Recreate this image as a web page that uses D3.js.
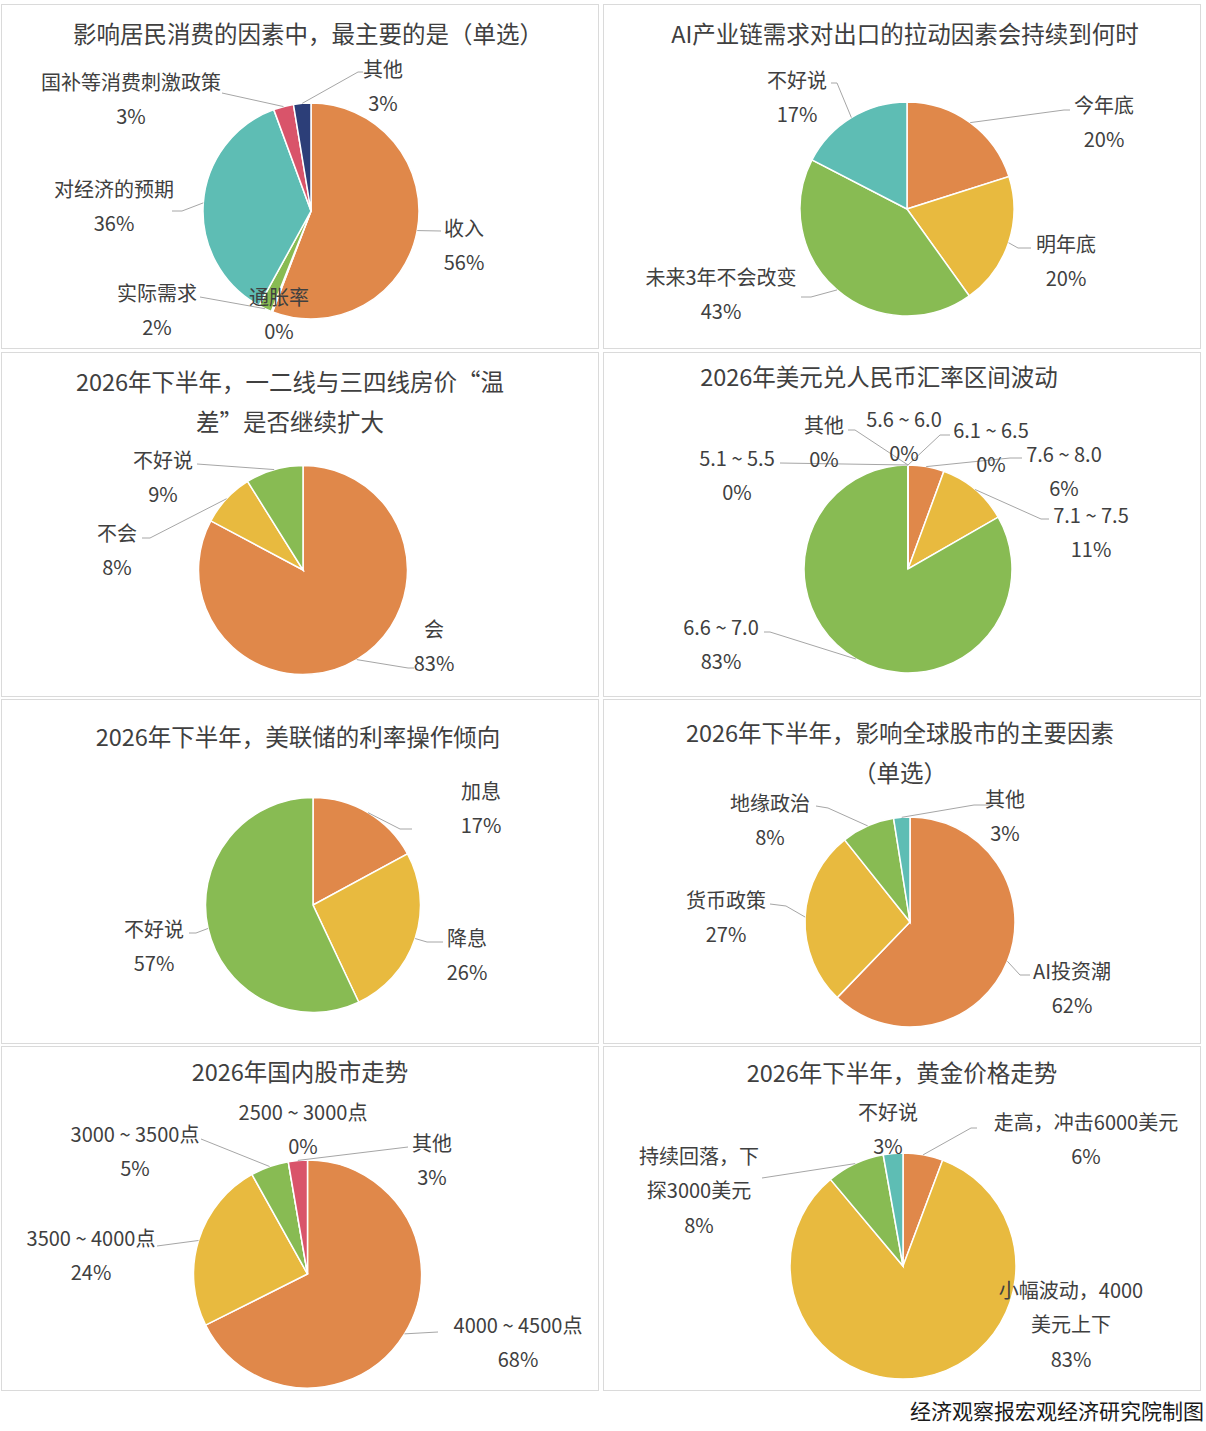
<!DOCTYPE html>
<html>
<head>
<meta charset="utf-8">
<script src="https://cdn.jsdelivr.net/npm/d3@7"></script>
<style>
  body { margin: 0; background: #fff; }
  text { font-family: "Noto Sans CJK SC", "Noto Sans", sans-serif; fill: #404040; }
</style>
</head>
<body>
<svg id="chart" width="1206" height="1431"></svg>
<script>
// ---- data ----
const consumeNames = ['收入', '通胀率', '实际需求', '对经济的预期', '国补等消费刺激政策', '其他'];
const consumeValues = [55.8, 0.2, 2.0, 36.4, 3.0, 2.6];

const aiNames = ['今年底', '明年底', '未来3年不会改变', '不好说'];
const aiValues = [20.1, 20.0, 42.5, 17.4];

const houseNames = ['会', '不会', '不好说'];
const houseValues = [82.8, 8.3, 8.9];

const fxNames = ['7.6 ~ 8.0', '7.1 ~ 7.5', '6.6 ~ 7.0', '6.1 ~ 6.5', '5.6 ~ 6.0', '5.1 ~ 5.5', '其他'];
const fxValues = [5.6, 11.1, 83.3, 0, 0, 0, 0];

const fedNames = ['加息', '降息', '不好说'];
const fedValues = [17.1, 25.9, 57.0];

const globalNames = ['AI投资潮', '货币政策', '地缘政治', '其他'];
const globalValues = [62.2, 27.1, 8.2, 2.5];

const stockNames = ['4000 ~ 4500点', '3500 ~ 4000点', '3000 ~ 3500点', '2500 ~ 3000点', '其他'];
const stockValues = [67.6, 24.3, 5.4, 0, 2.7];

const goldNames = ['走高，冲击6000美元', '小幅波动，4000美元上下', '持续回落，下探3000美元', '不好说'];
const goldValues = [5.7, 83.2, 8.3, 2.8];

const palette = ['#E0884A', '#E8BA3F', '#88BB53', '#5EBDB4', '#D9546A', '#2C3E78', '#9E9E9E'];

// ---- layout ----
const panels = [
  { x: 1, y: 4 }, { x: 603, y: 4 },
  { x: 1, y: 352 }, { x: 603, y: 352 },
  { x: 1, y: 699 }, { x: 603, y: 699 },
  { x: 1, y: 1046 }, { x: 603, y: 1046 }
];
const panelW = 598, panelH = 345;

// label text anchor (center of first line) and leader polyline after the slice edge point
const consumeLabelPos = [
  { t: [464, 227], line: [[441, 231]] },
  { t: [279, 296] },
  { t: [157, 292], line: [[200, 297]] },
  { t: [114, 188], line: [[182, 211], [172, 211]] },
  { t: [131, 81], line: [[222, 93]] },
  { t: [383, 68], line: [[358, 72], [363, 72]] }
];
const aiLabelPos = [
  { t: [1104, 104], line: [[1064, 110], [1070, 110]] },
  { t: [1066, 243], line: [[1018, 248], [1031, 248]] },
  { t: [721, 276], line: [[811, 297], [801, 297]] },
  { t: [797, 79], line: [[837, 83], [831, 83]] }
];
const houseLabelPos = [
  { t: [434, 628], line: [[408, 668], [414, 668]] },
  { t: [117, 532], line: [[150, 538], [142, 538]] },
  { t: [163, 459], line: [[197, 464]] }
];
const fxLabelPos = [
  { t: [1064, 453], line: [[1010, 458], [1022, 458]] },
  { t: [1091, 514], line: [[1041, 519], [1049, 519]] },
  { t: [721, 626], line: [[770, 632], [764, 632]] },
  { t: [991, 429], line: [[940, 435], [950, 435]] },
  { t: [904, 418] },
  { t: [737, 457], line: [[780, 463]] },
  { t: [824, 424], line: [[855, 430], [848, 430]] }
];
const fedLabelPos = [
  { t: [481, 790], line: [[400, 829], [412, 829]] },
  { t: [467, 937], line: [[427, 942], [443, 942]] },
  { t: [154, 928], line: [[196, 933], [189, 933]] }
];
const globalLabelPos = [
  { t: [1072, 970], line: [[1020, 975], [1030, 975]] },
  { t: [726, 899], line: [[786, 906], [770, 904]] },
  { t: [770, 802], line: [[828, 808], [816, 806]] },
  { t: [1005, 798], line: [[974, 805], [990, 805]] }
];
const stockLabelPos = [
  { t: [518, 1324], line: [[438, 1332]] },
  { t: [91, 1237], line: [[157, 1246]] },
  { t: [135, 1133], line: [[201, 1139]] },
  { t: [303, 1111] },
  { t: [432, 1142], line: [[408, 1147]] }
];
const goldLabelPos = [
  { t: [1086, 1121], line: [[971, 1128], [977, 1128]] },
  { t: [1071, 1289], brk: 9 },
  { t: [699, 1155], line: [[762, 1178]], brk: 6 },
  { t: [888, 1111] }
];

const charts = [
  { title: ['影响居民消费的因素中，最主要的是（单选）'], tx: 308, ty: 33,
    names: consumeNames, values: consumeValues, cx: 311, cy: 211, r: 108, pos: consumeLabelPos },
  { title: ['AI产业链需求对出口的拉动因素会持续到何时'], tx: 905, ty: 33,
    names: aiNames, values: aiValues, cx: 907, cy: 209, r: 107, pos: aiLabelPos },
  { title: ['2026年下半年，一二线与三四线房价“温', '差”是否继续扩大'], tx: 290, ty: 381,
    names: houseNames, values: houseValues, cx: 303, cy: 570, r: 104.5, pos: houseLabelPos },
  { title: ['2026年美元兑人民币汇率区间波动'], tx: 879, ty: 376,
    names: fxNames, values: fxValues, cx: 908, cy: 569, r: 104, pos: fxLabelPos },
  { title: ['2026年下半年，美联储的利率操作倾向'], tx: 298, ty: 736,
    names: fedNames, values: fedValues, cx: 313, cy: 905, r: 107.5, pos: fedLabelPos },
  { title: ['2026年下半年，影响全球股市的主要因素', '（单选）'], tx: 900, ty: 732,
    names: globalNames, values: globalValues, cx: 910, cy: 922, r: 105, pos: globalLabelPos },
  { title: ['2026年国内股市走势'], tx: 300, ty: 1071,
    names: stockNames, values: stockValues, cx: 307.5, cy: 1274, r: 114, pos: stockLabelPos },
  { title: ['2026年下半年，黄金价格走势'], tx: 902, ty: 1072,
    names: goldNames, values: goldValues, cx: 903, cy: 1266, r: 113, pos: goldLabelPos }
];

const svg = d3.select('#chart');

// panel frames
svg.selectAll('rect.panel').data(panels)
  .enter().append('rect')
  .attr('class', 'panel')
  .attr('x', d => d.x + 0.5)
  .attr('y', d => d.y + 0.5)
  .attr('width', panelW - 1)
  .attr('height', panelH - 1)
  .attr('fill', '#fff')
  .attr('stroke', '#DADADA')
  .attr('stroke-width', 1);

const pie = d3.pie().sort(null).value(d => d.v);

charts.forEach(c => {
  const g = svg.append('g');
  const rows = c.names.map((n, i) => ({ name: n, v: c.values[i], i: i }));
  const total = d3.sum(c.values);
  const color = d3.scaleOrdinal().domain(d3.range(rows.length)).range(palette);
  const arcs = pie(rows);
  const arc = d3.arc().innerRadius(0).outerRadius(c.r);
  const edge = d3.arc().innerRadius(c.r).outerRadius(c.r);

  // title
  c.title.forEach((line, k) => {
    g.append('text')
      .attr('x', c.tx)
      .attr('y', c.ty + k * 40)
      .attr('text-anchor', 'middle')
      .attr('dominant-baseline', 'central')
      .style('font-size', '23.5px')
      .text(line);
  });

  const pg = g.append('g').attr('transform', `translate(${c.cx},${c.cy})`);

  pg.selectAll('path').data(arcs)
    .enter().append('path')
    .attr('d', arc)
    .attr('fill', d => color(d.data.i))
    .attr('stroke', '#fff')
    .attr('stroke-width', 1.5);

  // leader lines
  arcs.forEach((d, i) => {
    const p = c.pos[i];
    if (!p.line) return;
    const e = edge.centroid(d);
    const pts = [[c.cx + e[0], c.cy + e[1]]].concat(p.line);
    g.append('path')
      .attr('d', d3.line()(pts))
      .attr('fill', 'none')
      .attr('stroke', '#A6A6A6')
      .attr('stroke-width', 1);
  });

  // data labels
  arcs.forEach((d, i) => {
    const p = c.pos[i];
    const name = d.data.name;
    const lines = p.brk ? [name.slice(0, p.brk), name.slice(p.brk)] : [name];
    lines.push(Math.round(d.data.v / total * 100) + '%');
    lines.forEach((s, k) => {
      g.append('text')
        .attr('x', p.t[0])
        .attr('y', p.t[1] + k * 34.5)
        .attr('text-anchor', 'middle')
        .attr('dominant-baseline', 'central')
        .style('font-size', '20px')
        .text(s);
    });
  });
});

// source note
svg.append('text')
  .attr('x', 1204)
  .attr('y', 1410)
  .attr('text-anchor', 'end')
  .attr('dominant-baseline', 'central')
  .style('font-size', '21px')
  .style('fill', '#1a1a1a')
  .text('经济观察报宏观经济研究院制图');
</script>
</body>
</html>
